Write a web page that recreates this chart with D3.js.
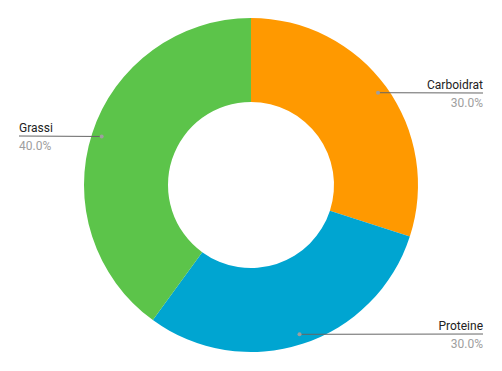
<!DOCTYPE html>
<html><head><meta charset="utf-8">
<script src="https://cdn.jsdelivr.net/npm/d3@7"></script>
<style>html,body{margin:0;padding:0;background:#fff;}svg{display:block;font-family:Roboto,Arial,sans-serif;}</style>
</head><body>
<script>
const categories = ["Carboidrat", "Proteine", "Grassi"];
const values = [30, 30, 40];
const colors = ["#FF9900", "#00A5D1", "#5CC44A"];

const W = 502, H = 371, cx = 251, cy = 185, R = 167, r0 = 83;
const svg = d3.select("body").append("svg").attr("width", W).attr("height", H);
const g = svg.append("g").attr("transform", `translate(${cx},${cy})`);

const data = categories.map((c, i) => ({ name: c, value: values[i], color: colors[i] }));
const total = d3.sum(values);
const pie = d3.pie().value(d => d.value).sort(null);
const arcs = pie(data);
const arc = d3.arc().innerRadius(r0).outerRadius(R);
const labelArc = d3.arc().innerRadius(157).outerRadius(157);

g.selectAll("path.slice").data(arcs).enter().append("path")
  .attr("class", "slice").attr("d", arc).attr("fill", d => d.data.color);

arcs.forEach(a => {
  const [px, py] = labelArc.centroid(a);
  const mid = (a.startAngle + a.endAngle) / 2;
  const right = Math.sin(mid) > 0;
  const lx = right ? W - 19 - cx : 19 - cx;
  const ly = Math.round(py);
  g.append("line").attr("x1", px).attr("y1", py).attr("x2", lx).attr("y2", ly)
    .attr("stroke", "#666").attr("stroke-width", 1);
  g.append("circle").attr("cx", px).attr("cy", py).attr("r", 2).attr("fill", "#9e9e9e");
  g.append("text").attr("x", lx).attr("y", ly - 4)
    .attr("text-anchor", right ? "end" : "start")
    .attr("font-size", 12).attr("fill", "#222").text(a.data.name);
  g.append("text").attr("x", lx).attr("y", ly + 13.5)
    .attr("text-anchor", right ? "end" : "start")
    .attr("font-size", 12).attr("fill", "#9e9e9e")
    .text((a.data.value / total * 100).toFixed(1) + "%");
});
</script>
</body></html>
